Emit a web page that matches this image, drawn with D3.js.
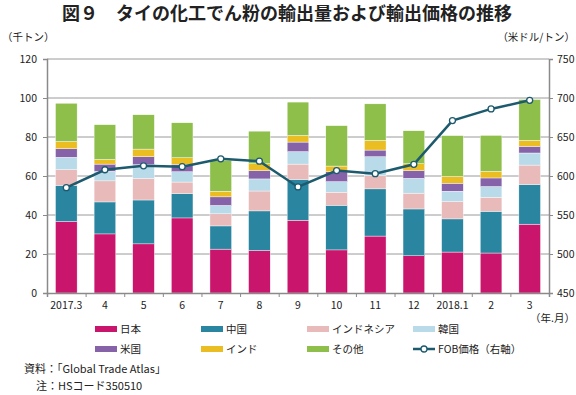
<!DOCTYPE html>
<html>
<head>
<meta charset="utf-8">
<script src="https://cdn.jsdelivr.net/npm/d3@7"></script>
<style>
  body { margin: 0; background: #fff; }
  svg { font-family: "Noto Sans CJK JP", "Noto Sans", sans-serif; }
</style>
</head>
<body>
<div id="chart"></div>
<script>
// categories (year.month)
var months = ["2017.3", "4", "5", "6", "7", "8", "9", "10", "11", "12", "2018.1", "2", "3"];

// export volume by destination (thousand tons)
var japan     = [36.7, 30.3, 25.2, 38.5, 22.5, 21.8, 37.3, 22.1, 29.2, 19.1, 21.0, 20.5, 35.3];
var china     = [18.5, 16.4, 22.5, 12.5, 11.9, 20.3, 20.9, 22.9, 24.2, 24.0, 17.0, 21.4, 20.3];
var indonesia = [8.1, 10.8, 11.0, 5.9, 6.2, 10.2, 7.9, 6.7, 6.8, 8.1, 8.9, 7.2, 10.0];
var korea     = [6.3, 4.9, 7.1, 5.3, 4.3, 6.2, 6.4, 5.4, 9.7, 7.6, 5.3, 5.5, 6.2];
var usa       = [4.4, 3.7, 4.1, 3.8, 4.4, 4.3, 4.9, 5.1, 3.4, 4.0, 4.1, 4.4, 3.4];
var india     = [3.7, 2.4, 3.9, 3.4, 2.9, 3.5, 3.4, 2.9, 5.0, 3.5, 3.5, 3.4, 3.1];
var others    = [19.6, 17.8, 17.6, 17.9, 15.8, 16.7, 17.1, 20.7, 18.7, 16.9, 20.9, 18.4, 20.9];

// FOB price (USD/ton, right axis)
var fobPrice  = [585, 608, 613, 612, 622, 619, 586, 607, 603, 615, 671, 686, 697];

var leftTicks  = [0, 20, 40, 60, 80, 100, 120];
var rightTicks = [450, 500, 550, 600, 650, 700, 750];

var seriesNames  = ["日本", "中国", "インドネシア", "韓国", "米国", "インド", "その他"];
var seriesValues = [japan, china, indonesia, korea, usa, india, others];
var seriesColors = ["#c9156b", "#2a85a1", "#e8baba", "#b9dbe9", "#8663a9", "#eabd22", "#8ebf4b"];

var width = 576, height = 395;
var plot = {left: 47, right: 549, top: 59, bottom: 293};

var svg = d3.select("#chart").append("svg")
    .attr("width", width)
    .attr("height", height);

// title
svg.append("text")
    .attr("x", 287)
    .attr("y", 20)
    .attr("text-anchor", "middle")
    .style("font-size", "18px")
    .style("font-weight", "bold")
    .attr("fill", "#222")
    .text("図９　タイの化工でん粉の輸出量および輸出価格の推移");

// unit labels
svg.append("text")
    .attr("x", 2).attr("y", 41)
    .style("font-size", "10.5px").attr("fill", "#222")
    .text("（千トン）");
svg.append("text")
    .attr("x", 575).attr("y", 41)
    .attr("text-anchor", "end")
    .style("font-size", "10.5px").attr("fill", "#222")
    .text("（米ドル/トン）");

var x = d3.scaleBand()
    .domain(months)
    .range([plot.left, plot.right])
    .paddingInner(0.44)
    .paddingOuter(0.22);

var xEdge = d3.scaleLinear()
    .domain([0, months.length])
    .range([plot.left, plot.right]);

var y = d3.scaleLinear().domain([0, 120]).range([plot.bottom, plot.top]);
var y2 = d3.scaleLinear().domain([450, 750]).range([plot.bottom, plot.top]);

// gridlines
svg.append("g")
    .selectAll("line")
    .data(leftTicks.slice(1))
    .join("line")
    .attr("x1", plot.left).attr("x2", plot.right)
    .attr("y1", function(d) { return y(d); })
    .attr("y2", function(d) { return y(d); })
    .attr("stroke", "#9a9a9a")
    .attr("stroke-width", 1);

// stacked bars
var rows = months.map(function(m, i) {
    var r = {month: m};
    seriesNames.forEach(function(n, k) { r[n] = seriesValues[k][i]; });
    return r;
});
var stacked = d3.stack().keys(seriesNames)(rows);

svg.append("g")
    .selectAll("g")
    .data(stacked)
    .join("g")
    .attr("fill", function(d, k) { return seriesColors[k]; })
    .selectAll("rect")
    .data(function(d) { return d; })
    .join("rect")
    .attr("x", function(d) { return x(d.data.month); })
    .attr("y", function(d) { return y(d[1]); })
    .attr("width", x.bandwidth())
    .attr("height", function(d) { return y(d[0]) - y(d[1]); })
    .attr("stroke", "#ffffff")
    .attr("stroke-width", 0.4);

// axes
var axisColor = "#8a8a8a";

var leftAxis = svg.append("g")
    .attr("transform", "translate(" + plot.left + ",0)")
    .call(d3.axisLeft(y).tickValues(leftTicks).tickSize(4).tickPadding(6));

var rightAxis = svg.append("g")
    .attr("transform", "translate(" + plot.right + ",0)")
    .call(d3.axisRight(y2).tickValues(rightTicks).tickSize(4).tickPadding(4));

var bottomTicks = svg.append("g")
    .attr("transform", "translate(0," + plot.bottom + ")")
    .call(d3.axisBottom(xEdge).tickValues(d3.range(0, months.length + 1)).tickSize(4).tickFormat(""));

var bottomLabels = svg.append("g")
    .attr("transform", "translate(0," + plot.bottom + ")")
    .call(d3.axisBottom(x).tickSize(0).tickPadding(9));
bottomLabels.select(".domain").remove();

[leftAxis, rightAxis, bottomTicks].forEach(function(a) {
    a.select(".domain").attr("stroke", axisColor).attr("stroke-width", 1.5);
    a.selectAll(".tick line").attr("stroke", axisColor);
});
[leftAxis, rightAxis, bottomLabels].forEach(function(a) {
    a.selectAll("text")
        .style("font-size", "10.5px")
        .style("font-family", "'Noto Sans CJK JP', sans-serif")
        .attr("fill", "#222");
});

svg.append("text")
    .attr("x", 575).attr("y", 322)
    .attr("text-anchor", "end")
    .style("font-size", "10.5px").attr("fill", "#222")
    .text("（年.月）");

// FOB price line
var line = d3.line()
    .x(function(d, i) { return x(months[i]) + x.bandwidth() / 2; })
    .y(function(d) { return y2(d); });

svg.append("path")
    .datum(fobPrice)
    .attr("d", line)
    .attr("fill", "none")
    .attr("stroke", "#1d5a6e")
    .attr("stroke-width", 2.5);

svg.append("g")
    .selectAll("circle")
    .data(fobPrice)
    .join("circle")
    .attr("cx", function(d, i) { return x(months[i]) + x.bandwidth() / 2; })
    .attr("cy", function(d) { return y2(d); })
    .attr("r", 3)
    .attr("fill", "#fff")
    .attr("stroke", "#1d5a6e")
    .attr("stroke-width", 1.3);

// legend
var legendCols = [95, 201, 307, 413];
var legendRows = [329, 349];
var legendItems = seriesNames.map(function(n, k) { return {name: n, color: seriesColors[k], type: "bar"}; });
legendItems.push({name: "FOB価格（右軸）", color: "#1d5a6e", type: "line"});

var legend = svg.append("g")
    .selectAll("g")
    .data(legendItems)
    .join("g")
    .attr("transform", function(d, i) {
        return "translate(" + legendCols[i % 4] + "," + legendRows[Math.floor(i / 4)] + ")";
    });

legend.filter(function(d) { return d.type === "bar"; })
    .append("rect")
    .attr("x", 0).attr("y", -3)
    .attr("width", 22).attr("height", 6)
    .attr("fill", function(d) { return d.color; });

var lineItem = legend.filter(function(d) { return d.type === "line"; });
lineItem.append("line")
    .attr("x1", 0).attr("x2", 22).attr("y1", 0).attr("y2", 0)
    .attr("stroke", function(d) { return d.color; })
    .attr("stroke-width", 2.5);
lineItem.append("circle")
    .attr("cx", 11).attr("cy", 0).attr("r", 3)
    .attr("fill", "#fff")
    .attr("stroke", function(d) { return d.color; })
    .attr("stroke-width", 1.3);

legend.append("text")
    .attr("x", 25).attr("y", 4)
    .style("font-size", "10.5px")
    .attr("fill", "#222")
    .text(function(d) { return d.name; });

// notes
svg.append("text")
    .attr("x", 24).attr("y", 373)
    .style("font-size", "11px").attr("fill", "#222")
    .text("資料：「Global Trade Atlas」");
svg.append("text")
    .attr("x", 36).attr("y", 390)
    .style("font-size", "11px").attr("fill", "#222")
    .text("注：HSコード350510");
</script>
</body>
</html>
